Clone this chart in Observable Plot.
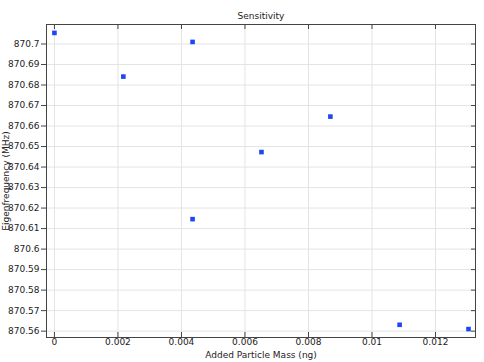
<!DOCTYPE html>
<html>
<head>
<meta charset="utf-8">
<script src="https://cdn.jsdelivr.net/npm/d3@7"></script>
<script src="https://cdn.jsdelivr.net/npm/@observablehq/plot@0.6"></script>
<style>
  html, body { margin: 0; padding: 0; background: white; }
</style>
</head>
<body>
<div id="chart"></div>
<script>
const titleText = "Sensitivity";
const xLabel = "Added Particle Mass (ng)";
const yLabel = "Eigenfrequency (MHz)";

const masses = [0, 0.00217, 0.00435, 0.00435, 0.00652, 0.00869, 0.01087, 0.01304];
const freqs = [870.7054, 870.6841, 870.7010, 870.6146, 870.6473, 870.6646, 870.5631, 870.5610];

const xTicks = [0, 0.002, 0.004, 0.006, 0.008, 0.01, 0.012];
const xTickLabels = ["0", "0.002", "0.004", "0.006", "0.008", "0.01", "0.012"];
const yTicks = [870.56, 870.57, 870.58, 870.59, 870.60, 870.61, 870.62, 870.63, 870.64, 870.65, 870.66, 870.67, 870.68, 870.69, 870.70];
const yTickLabels = ["870.56", "870.57", "870.58", "870.59", "870.6", "870.61", "870.62", "870.63", "870.64", "870.65", "870.66", "870.67", "870.68", "870.69", "870.7"];

const xFmt = new Map(xTicks.map((t, i) => [t, xTickLabels[i]]));
const yFmt = new Map(yTicks.map((t, i) => [t, yTickLabels[i]]));

const W = 484, H = 362, mL = 46, mR = 9, mT = 24, mB = 25;
const fw = W - mL - mR, fh = H - mT - mB;
const axisColor = "#444";
const gridColor = "#e4e4e4";

const idx = masses.map((_, i) => i);

const chart = Plot.plot({
  width: W, height: H,
  marginLeft: mL, marginRight: mR, marginTop: mT, marginBottom: mB,
  style: { fontFamily: "DejaVu Sans", fontSize: "9px", color: "#222", background: "white" },
  x: { domain: [-0.00025, 0.01326] },
  y: { domain: [870.5569, 870.7095] },
  marks: [
    Plot.gridX(xTicks, { x: d => d, stroke: gridColor, strokeOpacity: 1 }),
    Plot.gridY(yTicks, { y: d => d, stroke: gridColor, strokeOpacity: 1 }),
    Plot.axisX(xTicks, { anchor: "bottom", tickSize: 0, tickPadding: 1, tickFormat: d => xFmt.get(d), label: null, fill: "#222" }),
    Plot.axisY(yTicks, { anchor: "left", tickSize: 5, tickPadding: 2, tickFormat: d => yFmt.get(d), label: null, stroke: axisColor, fill: "#222" }),
    Plot.tickX(xTicks, { x: d => d, insetTop: fh - 5, stroke: axisColor }),
    Plot.tickX(xTicks, { x: d => d, insetBottom: fh - 5, stroke: axisColor }),
    Plot.tickY(yTicks, { y: d => d, insetLeft: fw - 4, stroke: axisColor }),
    Plot.frame({ stroke: axisColor }),
    Plot.dot(idx, { x: i => masses[i], y: i => freqs[i], symbol: "square", r: 2.6, fill: "#1f45f5", stroke: "none" }),
    Plot.text([titleText], { frameAnchor: "top", lineAnchor: "middle", dy: -8, text: d => d, fontSize: 9, fill: "#222" }),
    Plot.text([xLabel], { frameAnchor: "bottom", lineAnchor: "middle", dy: 18, text: d => d, fontSize: 9, fill: "#222" }),
    Plot.text([yLabel], { frameAnchor: "left", textAnchor: "middle", lineAnchor: "middle", dx: -40.5, rotate: -90, text: d => d, fontSize: 9, fill: "#222" })
  ]
});
document.getElementById("chart").appendChild(chart);
</script>
</body>
</html>
